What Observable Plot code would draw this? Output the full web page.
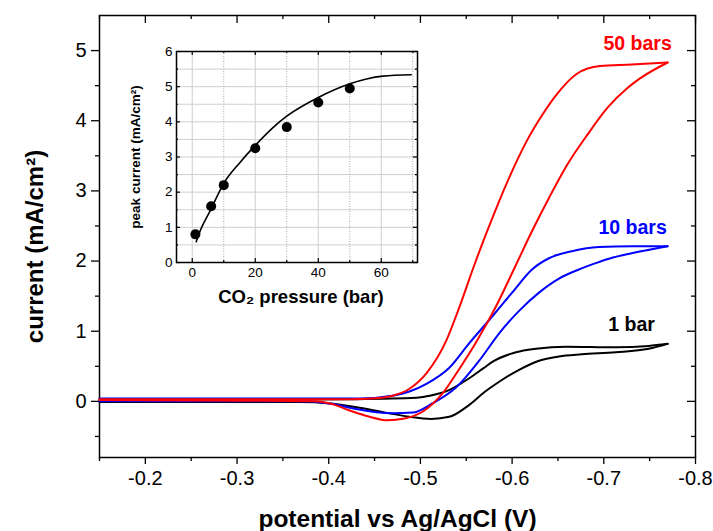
<!DOCTYPE html>
<html><head><meta charset="utf-8">
<script src="https://cdn.jsdelivr.net/npm/d3@7"></script>
<script src="https://cdn.jsdelivr.net/npm/@observablehq/plot@0.6"></script>
<style>
body{margin:0;background:#fff;}
#wrap{position:relative;width:713px;height:531px;font-family:"Liberation Sans",Arial,sans-serif;}
#wrap svg{position:absolute;overflow:visible;}
</style></head><body><div id="wrap"></div>
<script>
// ---------- main chart data ----------
const xMajor = [-0.2, -0.3, -0.4, -0.5, -0.6, -0.7, -0.8];
const xMinor = [-0.15, -0.25, -0.35, -0.45, -0.55, -0.65, -0.75];
const yMajor = [0, 1, 2, 3, 4, 5];
const yMinor = [-0.5, 0.5, 1.5, 2.5, 3.5, 4.5];
const seriesNames = ["1 bar", "10 bars", "50 bars"];
const seriesColors = ["#000000", "#0000ff", "#ff0000"];

// cyclic voltammograms, [potential (V), current (mA/cm2)], each branch listed from -0.15 V towards the vertex
const bar1Lower = [
  [-0.15,-0.01],[-0.30,-0.01],[-0.3685,-0.01],[-0.4011,-0.03],[-0.4337,-0.09],[-0.4663,-0.17],
  [-0.4880,-0.22],[-0.5120,-0.25],[-0.5315,-0.22],[-0.5533,-0.05],[-0.5696,0.13],[-0.5859,0.28],
  [-0.6076,0.45],[-0.6293,0.58],[-0.6511,0.64],[-0.6761,0.67],[-0.7130,0.70],[-0.7489,0.75],[-0.7696,0.82]
];
const bar1Upper = [
  [-0.15,0.02],[-0.30,0.02],[-0.4228,0.03],[-0.4957,0.05],[-0.5098,0.08],[-0.5293,0.15],
  [-0.5533,0.33],[-0.5685,0.47],[-0.5793,0.57],[-0.6043,0.70],[-0.6261,0.75],[-0.6587,0.78],
  [-0.7130,0.77],[-0.7489,0.79],[-0.7696,0.82]
];
const bar10Lower = [
  [-0.15,0.0],[-0.30,0.0],[-0.3685,0.0],[-0.4011,-0.03],[-0.4228,-0.09],[-0.4696,-0.17],
  [-0.4913,-0.16],[-0.5130,-0.03],[-0.5391,0.20],[-0.5641,0.58],[-0.5859,0.97],[-0.6076,1.29],
  [-0.6293,1.55],[-0.6511,1.75],[-0.6728,1.88],[-0.6913,1.97],[-0.7100,2.05],[-0.7304,2.11],[-0.7696,2.21]
];
const bar10Upper = [
  [-0.15,0.04],[-0.35,0.04],[-0.4337,0.04],[-0.4696,0.08],[-0.4880,0.14],[-0.5065,0.25],
  [-0.5315,0.48],[-0.5533,0.83],[-0.5783,1.21],[-0.6000,1.55],[-0.6217,1.88],[-0.6402,2.04],
  [-0.6652,2.14],[-0.6946,2.20],[-0.7304,2.21],[-0.7696,2.21]
];
const bar50Lower = [
  [-0.15,0.02],[-0.30,0.01],[-0.3848,0.0],[-0.4065,-0.05],[-0.4228,-0.13],[-0.4446,-0.22],
  [-0.4641,-0.27],[-0.4826,-0.245],[-0.5043,-0.13],[-0.5239,0.11],[-0.5413,0.44],[-0.5620,0.87],
  [-0.5815,1.33],[-0.6022,1.89],[-0.6207,2.40],[-0.6402,2.90],[-0.6609,3.39],[-0.6826,3.81],
  [-0.7043,4.19],[-0.7261,4.47],[-0.7391,4.60],[-0.7696,4.83]
];
const bar50Upper = [
  [-0.15,0.03],[-0.35,0.03],[-0.4228,0.03],[-0.4478,0.04],[-0.4696,0.08],[-0.4880,0.18],
  [-0.5065,0.40],[-0.5283,0.87],[-0.5424,1.34],[-0.5587,1.94],[-0.5717,2.39],[-0.5848,2.82],
  [-0.5989,3.25],[-0.6163,3.72],[-0.6337,4.10],[-0.6489,4.38],[-0.6707,4.67],[-0.6957,4.78],
  [-0.7304,4.80],[-0.7696,4.83]
];
const cvBranches = [
  [bar1Lower, bar1Upper], [bar10Lower, bar10Upper], [bar50Lower, bar50Upper]
];

// ---------- inset data ----------
const pressure = [1, 6, 10, 20, 30, 40, 50];
const peakCurrent = [0.8, 1.6, 2.2, 3.25, 3.85, 4.55, 4.95];
const fitPressure = [1.25, 2.6, 5.8, 10, 15.3, 20, 25.8, 30, 40, 50, 55.3, 60.5, 69.5];
const fitCurrent  = [0.59, 0.92, 1.49, 2.25, 2.86, 3.33, 3.85, 4.16, 4.69, 5.08, 5.22, 5.30, 5.34];
const insetXMajor = [0, 20, 40, 60];
const insetXMinor = [10, 30, 50, 70];
const insetYMajor = [0, 1, 2, 3, 4, 5, 6];
const insetYMinor = [0.5, 1.5, 2.5, 3.5, 4.5, 5.5];

// ---------- build ----------
const FONT = '"Liberation Sans", Arial, sans-serif';
const rows = cvBranches.flatMap((branches, i) =>
  branches.flatMap((pts, b) => pts.map(([v, c]) => ({v, c, name: seriesNames[i], key: seriesNames[i] + "-" + b}))));
const ends = cvBranches.map((branches, i) => {
  const pts = branches[0];
  const last = pts[pts.length - 1];
  return {v: last[0], c: last[1], name: seriesNames[i]};
});
const labelDx = [-36, -35, -30];

const W = 713, H = 531, mL = 99, mR = 18, mT = 15, mB = 74;
const pw = W - mL - mR, ph = H - mT - mB;

const main = Plot.plot({
  width: W, height: H, marginLeft: mL, marginRight: mR, marginTop: mT, marginBottom: mB,
  style: {fontFamily: FONT, background: "transparent", color: "black"},
  x: {domain: [-0.15, -0.8], axis: null},
  y: {domain: [-0.8, 5.5], axis: null},
  color: {domain: seriesNames, range: seriesColors},
  marks: [
    Plot.axisX(xMajor, {anchor: "bottom", tickSize: 7, tickPadding: 6, fontSize: 20, tickFormat: d => d.toFixed(1), label: null, strokeWidth: 1.3}),
    Plot.axisX(xMinor, {anchor: "bottom", tickSize: 4, tickFormat: () => "", label: null, strokeWidth: 1.3}),
    Plot.axisY(yMajor, {anchor: "left", tickSize: 8, tickPadding: 5, fontSize: 20, tickFormat: d => String(d), label: null, strokeWidth: 1.3}),
    Plot.axisY(yMinor, {anchor: "left", tickSize: 4, tickFormat: () => "", label: null, strokeWidth: 1.3}),
    Plot.ruleX(xMajor, {x: d => d, insetBottom: ph - 8, strokeWidth: 1.3}),
    Plot.ruleX(xMinor, {x: d => d, insetBottom: ph - 4, strokeWidth: 1.3}),
    Plot.ruleY(yMajor, {y: d => d, insetLeft: pw - 8, strokeWidth: 1.3}),
    Plot.ruleY(yMinor, {y: d => d, insetLeft: pw - 4, strokeWidth: 1.3}),
    Plot.frame({stroke: "black", strokeWidth: 1.5}),
    Plot.line(rows, {x: "v", y: "c", z: "key", stroke: "name", strokeWidth: 2, curve: "monotone-x"}),
    ...ends.map((e, i) => Plot.text([e], {x: "v", y: "c", text: "name", fill: "name", fontSize: 19.5, fontWeight: "bold",
      dx: labelDx[i], dy: -19})),
    Plot.text(["potential vs Ag/AgCl (V)"], {frameAnchor: "bottom", text: d => d, textAnchor: "middle", dy: 62, fontSize: 24.5, fontWeight: "bold", lineAnchor: "middle"}),
    Plot.text(["current (mA/cm²)"], {frameAnchor: "left", text: d => d, textAnchor: "middle", rotate: -90, dx: -64, dy: 10, fontSize: 24, fontWeight: "bold", lineAnchor: "middle"})
  ]
});
main.style.left = "0px"; main.style.top = "0px";

// inset
const iL = 100, iT = 30, iW = 330, iH = 300;
const imL = 76, imR = 13, imT = 21, imB = 68;
const ipw = iW - imL - imR, iph = iH - imT - imB;
const fitRows = fitPressure.map((p, i) => ({p, c: fitCurrent[i]}));
const ptRows = pressure.map((p, i) => ({p, c: peakCurrent[i]}));

const inset = Plot.plot({
  width: iW, height: iH, marginLeft: imL, marginRight: imR, marginTop: imT, marginBottom: imB,
  style: {fontFamily: FONT, background: "transparent", color: "black"},
  x: {domain: [-5, 71.5], axis: null},
  y: {domain: [0, 6], axis: null},
  marks: [
    Plot.ruleY(insetYMinor.concat([1, 2, 3, 4, 5]), {y: d => d, stroke: "#cfcfcf", strokeWidth: 1}),
    Plot.ruleX(insetXMajor, {x: d => d, stroke: "#cfcfcf", strokeWidth: 1}),
    Plot.ruleX(insetXMinor, {x: d => d, stroke: "#a8a8a8", strokeWidth: 1, strokeDasharray: "1,1.5"}),
    Plot.axisX(insetXMajor, {anchor: "bottom", tickSize: 0, tickPadding: 5, fontSize: 13.5, tickFormat: d => String(d), label: null}),
    Plot.axisY(insetYMajor, {anchor: "left", tickSize: 0, tickPadding: 4, fontSize: 13.5, tickFormat: d => String(d), label: null}),
    Plot.ruleX(insetXMajor, {x: d => d, insetTop: iph - 4, strokeWidth: 1.2}),
    Plot.ruleX(insetXMajor, {x: d => d, insetBottom: iph - 4, strokeWidth: 1.2}),
    Plot.ruleX(insetXMinor, {x: d => d, insetTop: iph - 2, strokeWidth: 1.2}),
    Plot.ruleX(insetXMinor, {x: d => d, insetBottom: iph - 2, strokeWidth: 1.2}),
    Plot.ruleY(insetYMajor, {y: d => d, insetRight: ipw - 4, strokeWidth: 1.2}),
    Plot.ruleY(insetYMajor, {y: d => d, insetLeft: ipw - 4, strokeWidth: 1.2}),
    Plot.ruleY(insetYMinor, {y: d => d, insetRight: ipw - 2, strokeWidth: 1.2}),
    Plot.ruleY(insetYMinor, {y: d => d, insetLeft: ipw - 2, strokeWidth: 1.2}),
    Plot.frame({stroke: "black", strokeWidth: 1.5}),
    Plot.line(fitRows, {x: "p", y: "c", stroke: "black", strokeWidth: 1.6, curve: "monotone-x"}),
    Plot.dot(ptRows, {x: "p", y: "c", r: 5, fill: "black", stroke: "none"}),
    Plot.text(["CO₂ pressure (bar)"], {frameAnchor: "bottom", text: d => d, textAnchor: "middle", dx: 4, dy: 35, fontSize: 18.5, fontWeight: "bold", lineAnchor: "middle"}),
    Plot.text(["peak current (mA/cm²)"], {frameAnchor: "left", text: d => d, textAnchor: "middle", rotate: -90, dx: -41, dy: 0, fontSize: 13.5, fontWeight: "bold", lineAnchor: "middle"})
  ]
});
inset.style.left = iL + "px"; inset.style.top = iT + "px";

const wrap = document.getElementById("wrap");
wrap.appendChild(main);
wrap.appendChild(inset);
</script></body></html>
